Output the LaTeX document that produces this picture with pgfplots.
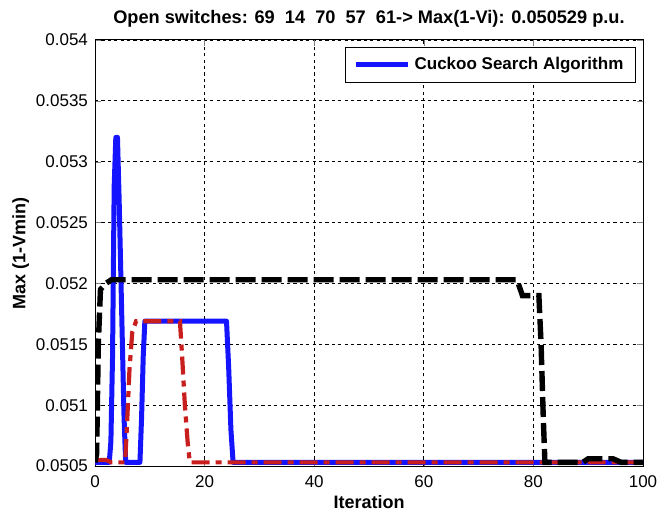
\documentclass[border=0pt]{standalone}
\usepackage{pgfplots}
\pgfplotsset{compat=1.18}
\usepackage{fontspec}
\setmainfont{Liberation Sans}
\definecolor{csblue}{RGB}{20,20,255}
\definecolor{csred}{RGB}{200,30,30}
\begin{document}
\begin{tikzpicture}
\path[use as bounding box] (-47.5pt,-24pt) rectangle (288.5pt,233pt);
\begin{axis}[
  at={(0,0)}, anchor=south west,
  scale only axis, width=274pt, height=213pt,
  xmin=0, xmax=100, ymin=0.0505, ymax=0.054,
  xtick={0,20,...,100},
  ytick={0.0505,0.051,0.0515,0.052,0.0525,0.053,0.0535,0.054},
  yticklabels={0.0505,0.051,0.0515,0.052,0.0525,0.053,0.0535,0.054},
  scaled y ticks=false,
  /pgf/number format/assume math mode=true,
  tick label style={font=\fontsize{8.5}{10}\selectfont},
  xticklabel style={yshift=-1.5pt},
  tick align=inside, major tick length=3pt,
  xmajorgrids, ymajorgrids,
  grid style={black, line width=0.4pt, dash pattern=on 1.6pt off 1.6pt},
  axis line style={black, line width=0.5pt},
  title={\bfseries Open switches: 69\ \ 14\ \ 70\ \ 57\ \ 61-> Max(1-Vi): 0.050529 p.u.},
  title style={font=\fontsize{9.1}{11}\selectfont, yshift=-3pt},
  xlabel={\bfseries Iteration},
  ylabel={\bfseries Max (1-Vmin)},
  label style={font=\fontsize{9}{11}\selectfont},
  xlabel style={yshift=3pt},
  ylabel style={yshift=-3.5pt},
  legend style={at={(0.987,0.984)}, anchor=north east, draw=black, line width=0.5pt,
    font=\bfseries\fontsize{8.5}{10}\selectfont, inner xsep=4pt, inner ysep=3pt},
  legend image code/.code={\draw[#1] (0pt,0pt) -- (26pt,0pt);},
  legend cell align=left,
]
\addplot[csblue, line width=2.5pt, line join=round] coordinates {
(0,0.05053)(2.6,0.05053)(2.9,0.0507)(3.2,0.0514)(3.5,0.0528)(3.8,0.0532)(4.1,0.0532)(4.4,0.0527)(4.7,0.0521)(5.0,0.0515)(5.3,0.0509)(5.6,0.05053)(8.2,0.05053)(8.5,0.0509)(8.8,0.0514)(9.1,0.05169)(24.0,0.05169)(24.4,0.0513)(24.8,0.0508)(25.2,0.05053)(100,0.05053)
};
\addlegendentry{Cuckoo Search Algorithm}
\addplot[csred, line width=2.1pt, dash pattern=on 9pt off 3pt on 3pt off 3pt, forget plot] coordinates {
(0,0.05055)(2,0.05055)(3,0.05053)(5.5,0.05053)(5.8,0.0508)(6.3,0.0513)(6.8,0.0516)(7.5,0.05169)(15.5,0.05169)(15.9,0.0514)(16.4,0.0510)(16.9,0.0507)(17.3,0.05053)(100,0.05053)
};
\addplot[black, line width=2.7pt, dash pattern=on 10pt off 3pt, forget plot] coordinates {
(0,0.05053)(0.3,0.0506)(0.6,0.0515)(1.0,0.05195)(2,0.0520)(3,0.05203)(77,0.05203)(78,0.0519)(81,0.0519)(81.4,0.0515)(81.8,0.0509)(82.1,0.05053)(89,0.05053)(90,0.05056)(94.5,0.05056)(96,0.05053)(100,0.05053)
};
\end{axis}
\end{tikzpicture}
\end{document}
